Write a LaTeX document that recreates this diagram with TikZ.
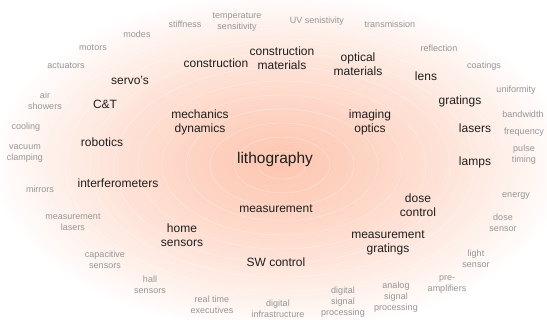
\documentclass[tikz,border=0pt]{standalone}
\usepackage{fontspec}
\setmainfont{Liberation Sans}
\definecolor{salmon}{RGB}{253,198,176}
\definecolor{maintext}{RGB}{30,30,30}
\definecolor{subtext}{RGB}{150,150,150}
\begin{document}
\begin{tikzpicture}[x=1pt,y=-1pt,
  topic/.style={font=\fontsize{12}{14}\selectfont, text=maintext, align=center, inner sep=0pt},
  core/.style={font=\fontsize{15.5}{18}\selectfont, text=maintext, align=center, inner sep=0pt},
  detail/.style={font=\fontsize{9}{11}\selectfont, text=subtext, align=center, inner sep=0pt},
  ring/.style={draw=white, line width=0.4pt, opacity=0.45}]
\useasboundingbox (0,0) rectangle (547,320);
\clip (0,0) rectangle (547,320);
\fill[white] (0,0) rectangle (547,320);
% radial glow
\foreach \i in {60,...,1}{
  \pgfmathsetmacro\rr{\i/60}
  \pgfmathsetmacro\pp{100*(1-0.72*\rr-0.28*\rr*\rr)}
  \fill[salmon!\pp!white] (280,162) ellipse ({292*\rr} and {172*\rr});
}
\foreach \k in {1,...,11}{
  \draw[ring] (282,165) ellipse ({24*\k} and {14*\k});
}
% centre
\node[core] (litho) at (275,159) {lithography};
% main topics
\node[topic] (constr) at (216,63) {construction};
\node[topic] (constrmat) at (282,58) {construction\\materials};
\node[topic] (optmat) at (358,64) {optical\\materials};
\node[topic] (servo) at (130,80) {servo's};
\node[topic] (lens) at (426,76) {lens};
\node[topic] (ct) at (105,104) {C\&T};
\node[topic] (mech) at (200,122) {mechanics\\dynamics};
\node[topic] (imaging) at (370,122) {imaging\\optics};
\node[topic] (gratings) at (460,101) {gratings};
\node[topic] (robotics) at (102,142) {robotics};
\node[topic] (lasers) at (475,128) {lasers};
\node[topic] (lamps) at (475,162) {lamps};
\node[topic] (interf) at (118,183) {interferometers};
\node[topic] (dose) at (418,205) {dose\\control};
\node[topic] (meas) at (276,209) {measurement};
\node[topic] (home) at (182,235) {home\\sensors};
\node[topic] (measgr) at (388,243) {measurement\\gratings};
\node[topic] (sw) at (276,262) {SW control};
% details
\node[detail] (stiff) at (185,24) {stiffness};
\node[detail] (temp) at (237,22) {temperature\\sensitivity};
\node[detail] (uv) at (317,21) {UV senistivity};
\node[detail] (trans) at (390,24) {transmission};
\node[detail] (modes) at (137,34) {modes};
\node[detail] (motors) at (93,48) {motors};
\node[detail] (act) at (66,66) {actuators};
\node[detail] (refl) at (439,48) {reflection};
\node[detail] (coat) at (484,66) {coatings};
\node[detail] (unif) at (516,90) {uniformity};
\node[detail] (air) at (45,101) {air\\showers};
\node[detail] (band) at (523,114) {bandwidth};
\node[detail] (freq) at (524,132) {frequency};
\node[detail] (cool) at (26,127) {cooling};
\node[detail] (vac) at (25,154) {vacuum\\clamping};
\node[detail] (pulse) at (524,155) {pulse\\timing};
\node[detail] (mirr) at (40,189) {mirrors};
\node[detail] (energy) at (516,196) {energy};
\node[detail] (dsens) at (503,223) {dose\\sensor};
\node[detail] (mlas) at (73,222) {measurement\\lasers};
\node[detail] (cap) at (105,260) {capacitive\\sensors};
\node[detail] (light) at (476,259) {light\\sensor};
\node[detail] (hall) at (150,285) {hall\\sensors};
\node[detail] (pre) at (447,285) {pre-\\amplifiers};
\node[detail] (asp) at (396,297) {analog\\signal\\processing};
\node[detail] (dsp) at (343,302) {digital\\signal\\processing};
\node[detail] (rte) at (212,305) {real time\\executives};
\node[detail] (dinf) at (278,309) {digital\\infrastructure};
\end{tikzpicture}
\end{document}
